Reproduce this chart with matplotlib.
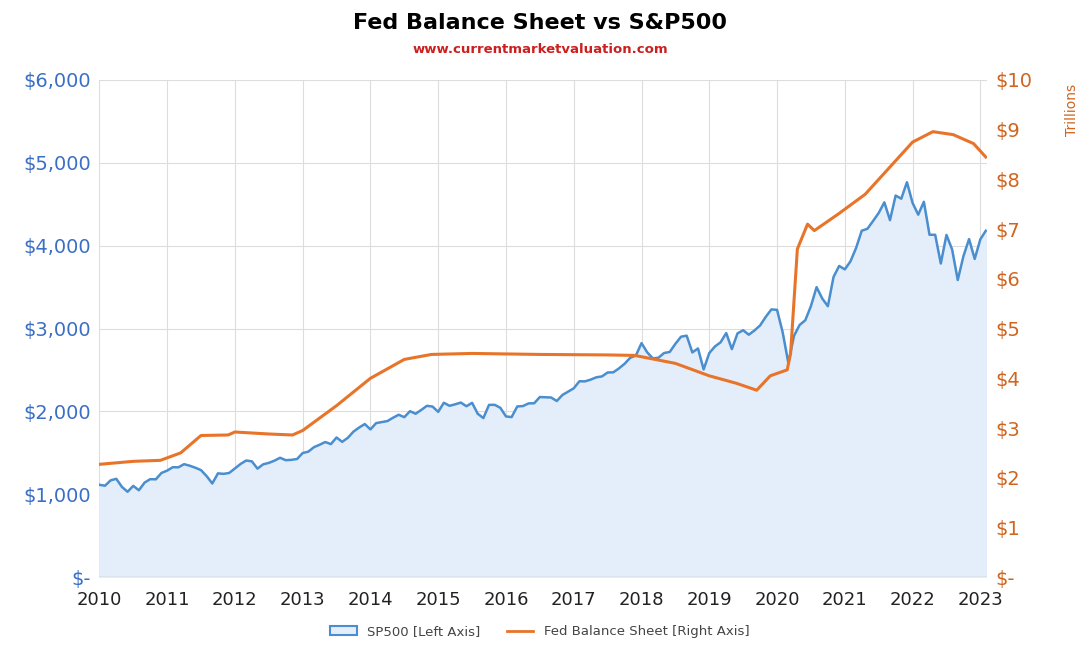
import numpy as np
import matplotlib.pyplot as plt
from matplotlib.patches import Patch
from matplotlib.lines import Line2D

sp_years = list(range(2010, 2023))
sp_monthly = [
 [1115,1104,1169,1187,1089,1031,1102,1049,1141,1183,1181,1258],
 [1286,1327,1326,1364,1345,1321,1292,1219,1131,1253,1247,1258],
 [1312,1366,1408,1398,1310,1362,1379,1406,1441,1412,1416,1426],
 [1498,1515,1569,1598,1631,1606,1686,1633,1682,1757,1806,1848],
 [1783,1859,1872,1884,1924,1960,1931,2003,1972,2018,2068,2059],
 [1995,2105,2068,2086,2107,2063,2104,1972,1920,2079,2080,2044],
 [1940,1932,2060,2065,2097,2099,2174,2171,2168,2126,2199,2239],
 [2279,2364,2363,2384,2412,2423,2470,2472,2519,2575,2648,2674],
 [2824,2714,2641,2648,2705,2718,2816,2902,2914,2712,2760,2507],
 [2704,2784,2834,2946,2752,2942,2980,2926,2977,3038,3141,3231],
 [3226,2954,2585,2912,3044,3100,3271,3500,3363,3270,3622,3756],
 [3714,3811,3973,4181,4204,4298,4395,4523,4308,4605,4567,4766],
 [4516,4374,4530,4132,4132,3785,4130,3955,3586,3872,4080,3840],
]
sp_tail = [4077, 4180]

fed_t = [2010.0,2010.5,2010.9,2011.2,2011.5,2011.9,2012.0,2012.5,2012.85,2013.0,
         2013.5,2014.0,2014.5,2014.9,2015.5,2016.5,2017.5,2017.9,2018.5,2019.0,
         2019.4,2019.7,2019.9,2020.15,2020.2,2020.3,2020.45,2020.55,2020.9,2021.3,
         2021.7,2022.0,2022.3,2022.6,2022.9,2023.08]
fed_v = [2.27,2.33,2.35,2.5,2.85,2.86,2.92,2.88,2.86,2.95,
         3.45,4.0,4.38,4.48,4.50,4.48,4.47,4.46,4.3,4.05,
         3.9,3.76,4.05,4.17,4.5,6.6,7.1,6.97,7.3,7.7,
         8.3,8.75,8.96,8.9,8.72,8.45]

sp_x = [y + m/12 for y in sp_years for m in range(12)] + [2023.0, 2023.08]
sp_y = [v for row in sp_monthly for v in row] + sp_tail

fig = plt.figure(figsize=(10.8, 6.5), dpi=100)
ax = fig.add_axes([0.092, 0.112, 0.822, 0.765])
blue = '#4a8ed0'; orange = '#e8742a'
ax.fill_between(sp_x, sp_y, color='#e4eefa', zorder=1)
ax.plot(sp_x, sp_y, color=blue, lw=1.8, zorder=3)
ax.set_xlim(2010, 2023.1); ax.set_ylim(0, 6000)
ax.set_xticks(range(2010, 2024))
ax.set_yticks(range(0, 6001, 1000))
ax.set_yticklabels(['$-'] + [f'${v:,}' for v in range(1000, 6001, 1000)])
ax.grid(True, color='#dddddd', lw=0.8); ax.set_axisbelow(True)
for s in ax.spines.values(): s.set_visible(False)
ax.axhline(0, color='#bbbbbb', lw=1)
ax.tick_params(axis='y', colors='#3b6fc4', labelsize=14, length=0, pad=6)
ax.tick_params(axis='x', labelsize=13, length=0, labelcolor='#222222', pad=10)

ax2 = ax.twinx()
ax2.plot(fed_t, fed_v, color=orange, lw=2.2, zorder=4)
ax2.set_ylim(0, 10)
ax2.set_yticks(range(0, 11))
ax2.set_yticklabels(['$-'] + [f'${v}' for v in range(1, 11)])
ax2.tick_params(axis='y', colors='#d0651f', labelsize=14, length=0, pad=6)
for s in ax2.spines.values(): s.set_visible(False)
ax2.set_ylabel('Trillions', color='#d0651f', fontsize=10)
ax2.yaxis.set_label_coords(1.088, 0.94)

fig.text(0.5, 0.955, 'Fed Balance Sheet vs S&P500', ha='center', fontsize=16, fontweight='bold')
fig.text(0.5, 0.918, 'www.currentmarketvaluation.com', ha='center', fontsize=9.5, fontweight='bold', color='#cc1f1f')

handles = [Patch(facecolor='#e4eefa', edgecolor=blue, lw=1.5, label='SP500 [Left Axis]'),
           Line2D([], [], color=orange, lw=2, label='Fed Balance Sheet [Right Axis]')]
fig.legend(handles=handles, loc='lower center', ncol=2, frameon=False, fontsize=9.5,
           bbox_to_anchor=(0.5, 0.0), labelcolor='#444444')
fig.savefig('out.png')
